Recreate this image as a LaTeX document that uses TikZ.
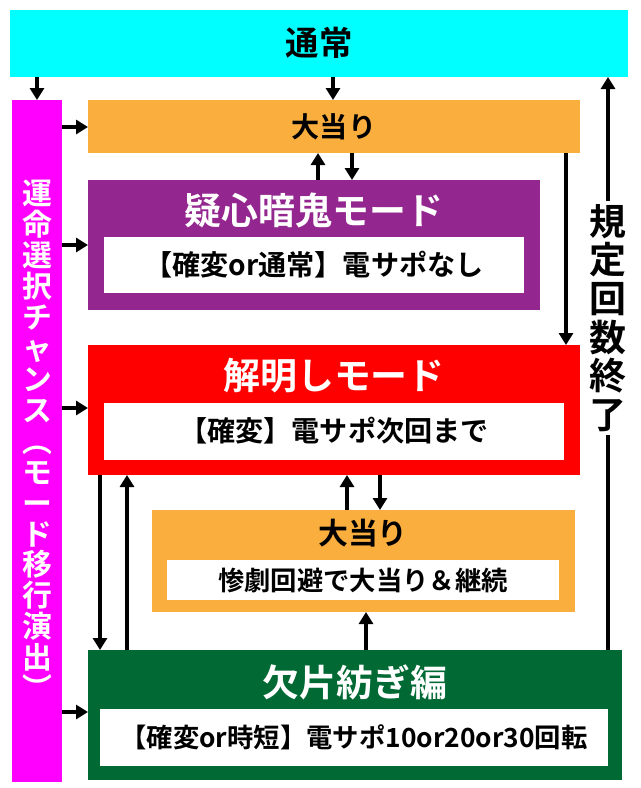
\documentclass[tikz,border=0pt]{standalone}
\usepackage{fontspec}
\setmainfont{Noto Sans CJK JP}[BoldFont={* Bold}]
\usetikzlibrary{positioning, arrows.meta}
\definecolor{cyanbg}{HTML}{00FFFF}
\definecolor{magbar}{HTML}{FF00FF}
\definecolor{orangebg}{HTML}{F9AE3E}
\definecolor{purplebg}{HTML}{93278F}
\definecolor{redbg}{HTML}{FF0000}
\definecolor{greenbg}{HTML}{006934}
\begin{document}
\begin{tikzpicture}[
    x=0.02cm, y=-0.02cm,
    title/.style={font=\bfseries\fontsize{21}{23}\selectfont, text=white},
    inner/.style={fill=white, inner sep=0pt, align=center, font=\bfseries\fontsize{16}{18}\selectfont},
    arrow/.style={-{Triangle[length=2.4mm,width=2.8mm]}, line width=2.2pt}
]
\useasboundingbox (0,0) rectangle (640,788);

% boxes
\fill[cyanbg] (10,10) rectangle (628,77);
\node[font=\bfseries\fontsize{19}{21}\selectfont] (normal) at (319,43) {通常};
\coordinate (normalL) at (37,77);
\coordinate (normalM) at (333,77);
\coordinate (normalR) at (608,77);

\fill[magbar] (12,100) rectangle (62,782);
\node[text=white, font=\bfseries\fontsize{17}{17.6}\selectfont, align=center, text width=17pt] (chance) at (37,440)
  {運\\命\\選\\択\\チ\\ャ\\ン\\ス\\︵\\モ\\ー\\ド\\移\\行\\演\\出\\︶};

\fill[orangebg] (88,100) rectangle (580,153);
\node[font=\bfseries\fontsize{16}{18}\selectfont] (hit) at (334,127) {大当り};

\fill[purplebg] (88,180) rectangle (540,310);
\node[title] (doubt) at (314,210) {疑心暗鬼モード};
\node[inner, text width=8.4cm, minimum height=1.12cm] (doubtin) at (314,265) {【確変or通常】電サポなし};

\fill[redbg] (88,345) rectangle (580,475);
\node[title] (solve) at (334,376) {解明しモード};
\node[inner, text width=9.2cm, minimum height=1.14cm] (solvein) at (334,431) {【確変】電サポ次回まで};

\fill[orangebg] (152,510) rectangle (575,612);
\node[font=\bfseries\fontsize{17}{19}\selectfont] (hit2) at (363,533) {大当り};
\node[inner, text width=7.86cm, minimum height=0.8cm, font=\bfseries\fontsize{15}{17}\selectfont] (hit2in) at (363,580) {惨劇回避で大当り＆継続};

\fill[greenbg] (88,650) rectangle (622,780);
\node[title] (shard) at (355,682) {欠片紡ぎ編};
\node[inner, text width=10.16cm, minimum height=1.14cm, font=\bfseries\fontsize{15}{17}\selectfont] (shardin) at (354,737) {【確変or時短】電サポ10or20or30回転};

% arrows
\draw[arrow] (normalL) -- (37,100);
\draw[arrow] (normalM) -- (333,100);
\foreach \y in {127,245,408,712}
  \draw[arrow] (62,\y) -- (88,\y);
\draw[arrow] (318,180) -- (318,153);
\draw[arrow] (352,153) -- (352,180);
\draw[arrow] (566,153) -- (566,345);
\draw[arrow] (347,510) -- (347,475);
\draw[arrow] (380,475) -- (380,510);
\draw[arrow] (100,475) -- (100,650);
\draw[arrow] (127,650) -- (127,475);
\draw[arrow] (366,650) -- (366,612);
\draw[arrow] (608,650) -- (normalR);
\node[fill=white, inner sep=2pt, font=\bfseries\fontsize{21}{22}\selectfont, align=center, text width=22pt] (count) at (608,318)
  {規\\定\\回\\数\\終\\了};
\end{tikzpicture}
\end{document}
